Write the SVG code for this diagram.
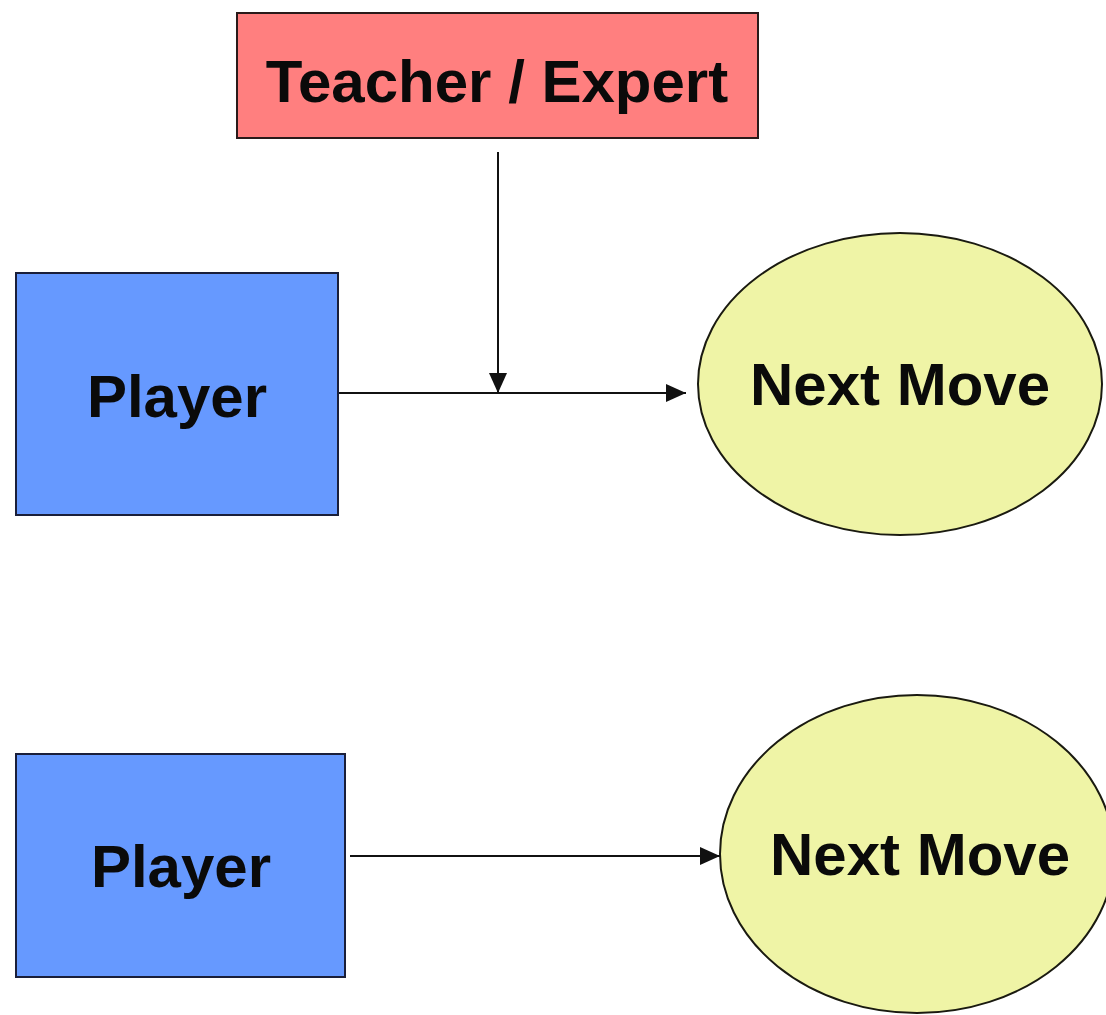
<svg xmlns="http://www.w3.org/2000/svg" width="1106" height="1015" viewBox="0 0 1106 1015">
  <style>
    .box { stroke: #2a1a1a; stroke-width: 2; }
    .teacher { fill: #FF7F7F; }
    .player { fill: #6699FF; stroke: #1a1f3a; }
    .move { fill: #EFF4A6; stroke: #1a1a10; stroke-width: 2; }
    .label { font-family: "Liberation Sans", Arial, sans-serif; font-weight: bold; font-size: 60px; fill: #0a0a0a; text-anchor: middle; }
    .edge { stroke: #111; stroke-width: 2; fill: none; }
  </style>
  <defs>
    <marker id="arrow" markerWidth="20" markerHeight="18" refX="20" refY="9" orient="auto" markerUnits="userSpaceOnUse">
      <path d="M0,0 L20,9 L0,18 Z" fill="#111"/>
    </marker>
  </defs>
  <rect width="1106" height="1015" fill="#ffffff"/>

  <g id="teacher">
    <rect class="box teacher" x="237" y="13" width="521" height="125"/>
    <text class="label" x="497" y="102">Teacher / Expert</text>
  </g>

  <g id="player-top">
    <rect class="box player" x="16" y="273" width="322" height="242"/>
    <text class="label" x="177" y="417">Player</text>
  </g>

  <g id="move-top">
    <ellipse class="move" cx="900" cy="384" rx="202" ry="151"/>
    <text class="label" x="900" y="405">Next Move</text>
  </g>

  <g id="player-bottom">
    <rect class="box player" x="16" y="754" width="329" height="223"/>
    <text class="label" x="181" y="887">Player</text>
  </g>

  <g id="move-bottom">
    <ellipse class="move" cx="917" cy="854" rx="197" ry="159"/>
    <text class="label" x="920" y="875">Next Move</text>
  </g>

  <g id="connectors">
    <line class="edge" x1="339" y1="393" x2="686" y2="393" marker-end="url(#arrow)"/>
    <line class="edge" x1="498" y1="152" x2="498" y2="393" marker-end="url(#arrow)"/>
    <line class="edge" x1="350" y1="856" x2="720" y2="856" marker-end="url(#arrow)"/>
  </g>
</svg>
